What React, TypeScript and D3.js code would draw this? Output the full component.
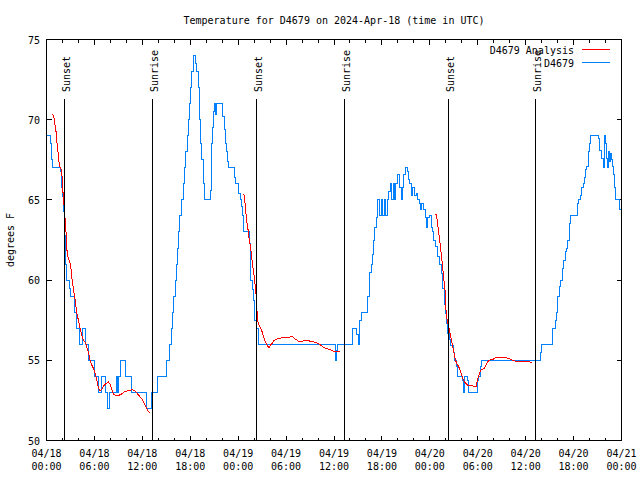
import React from "react";
import * as d3 from "d3";

const TITLE = "Temperature for D4679 on 2024-Apr-18 (time in UTC)";
const Y_LABEL = "degrees F";
const START_ISO = "2024-04-18T00:00:00Z";
const END_ISO = "2024-04-21T00:00:00Z";
const Y_TICKS = [50, 55, 60, 65, 70, 75];
const SERIES_NAMES = ["D4679 Analysis", "D4679"];
const SERIES_COLORS = ["#ff0000", "#0080ff"];

// Sun events, hours after 04/18 00:00 UTC
const SUN_HOURS = [2.25, 13.25, 26.25, 37.3, 50.3, 61.15];
const SUN_LABELS = ["Sunset", "Sunrise", "Sunset", "Sunrise", "Sunset", "Sunrise"];

// Observations (hours after 04/18 00:00 UTC, deg F)
const OBS: [number, number][] = [
  [0, 69], [0.55, 68.5], [0.67, 67.5], [0.8, 67], [1.8, 66.8], [1.92, 65.8], [2.05, 65.2], [2.15, 64.3],
  [2.25, 62.8], [2.32, 61.8], [2.4, 61], [2.55, 60], [2.85, 59.5], [3.0, 59], [3.5, 58], [3.8, 57],
  [4.13, 56], [4.54, 57], [4.84, 56], [5.25, 55], [6.0, 54], [6.5, 53], [6.92, 54], [7.34, 53],
  [7.67, 52], [7.88, 53], [8.71, 54], [8.85, 53], [9.0, 54], [9.21, 55], [9.83, 54], [10.67, 53],
  [12.46, 52], [13.17, 53], [13.95, 54], [15.0, 55], [15.4, 56], [15.65, 57], [15.8, 58], [15.95, 59],
  [16.1, 60], [16.3, 61], [16.4, 62], [16.5, 63], [16.65, 64], [16.9, 65], [17.1, 66], [17.3, 67],
  [17.45, 68], [17.6, 69], [17.75, 70], [17.85, 71], [18.0, 72], [18.2, 73], [18.45, 74], [18.6, 73.5],
  [18.75, 73], [19.0, 72], [19.1, 70], [19.25, 68.5], [19.45, 67.5], [19.6, 66], [19.8, 65], [20.55, 65.6],
  [20.62, 66.5], [20.7, 68.5], [20.8, 69.5], [20.9, 70.5], [21.0, 71], [21.2, 70.3], [21.3, 71], [22.1, 70.2],
  [22.25, 69.4], [22.4, 68.5], [22.55, 68], [22.7, 67.4], [22.8, 67], [23.5, 66.4], [23.65, 66], [24.1, 65.4],
  [24.3, 65], [24.45, 64.6], [24.6, 64], [24.7, 63], [25.4, 62.3], [25.5, 61.5], [25.6, 60], [25.75, 59.4],
  [25.9, 58.75], [26.1, 57.5], [26.3, 57], [26.6, 56], [36.15, 55], [36.3, 55.6], [36.45, 56], [38.35, 57],
  [38.85, 56.6], [39.05, 56], [39.2, 57.5], [39.4, 58], [40.2, 59], [40.4, 60], [40.5, 60.5], [40.67, 61],
  [40.88, 61.6], [41.0, 62.5], [41.1, 63.3], [41.3, 63.9], [41.4, 64.4], [41.5, 65], [41.7, 64], [41.9, 65],
  [42.1, 64], [42.3, 65], [42.5, 64], [42.65, 65], [42.84, 65.5], [43.05, 66], [43.2, 65], [43.4, 66],
  [43.55, 65], [43.7, 66], [44.0, 66.6], [44.2, 65.8], [44.4, 65], [44.6, 65.8],
  [44.75, 66.6], [44.9, 67], [45.17, 66.8], [45.3, 66.3], [45.5, 66], [45.75, 65.3], [45.88, 65.8], [46.1, 65.3],
  [46.3, 65.4], [46.5, 65], [46.7, 64.8], [46.8, 64.4], [47.0, 64.8], [47.2, 64.4], [47.4, 63.9], [47.54, 63.3],
  [47.75, 63.9], [47.96, 64], [48.17, 63.3], [48.3, 63], [48.5, 62.5], [48.7, 62.1], [49.0, 61.5], [49.2, 61],
  [49.4, 60.4], [49.6, 59.5], [49.8, 58.5], [49.96, 57.9], [50.1, 57.3], [50.25, 56.7], [50.46, 56.3], [50.6, 55.9],
  [50.96, 55.5], [51.1, 55], [51.3, 54.6], [51.5, 54], [52.13, 53.75], [52.25, 53], [52.4, 54], [52.67, 53.75],
  [52.84, 53], [54.0, 53.75], [54.1, 54], [54.3, 54.4], [54.4, 54.6], [54.5, 55], [61.85, 55.5], [61.95, 56],
  [63.4, 57], [63.7, 57.5], [63.8, 58], [64.0, 59], [64.2, 59.6], [64.4, 60], [64.6, 60.7], [64.75, 61.25],
  [64.95, 61.8], [65.1, 62], [65.3, 62.5], [65.5, 63.5], [65.6, 64], [66.45, 64.8], [66.6, 65], [66.9, 65.3],
  [67.0, 65.8], [67.2, 66], [67.33, 66.4], [67.5, 66.9], [67.63, 67.1], [67.85, 68], [68.05, 68.5], [68.15, 69],
  [69.1, 68.8], [69.2, 68.5], [69.3, 68.1], [69.5, 67.6], [69.7, 67], [69.83, 68], [69.92, 69], [70.04, 68.5],
  [70.17, 67.6], [70.25, 67], [70.38, 68], [70.46, 67.4], [70.58, 67.9], [70.71, 67.5], [70.88, 67.1], [71.0, 66.6],
  [71.13, 65.8], [71.29, 65], [71.8, 64.4], [72, 64.4],
];

// Analysis, night 1
const ANALYSIS_1: [number, number][] = [
  [0.75, 70.35], [0.96, 70.1], [1.09, 69.6], [1.21, 69.2], [1.29, 68.65], [1.42, 68.1], [1.54, 67.5], [1.63, 67.1],
  [1.8, 67.0], [1.96, 66.46], [2.05, 65.6], [2.13, 65.0], [2.21, 64.6], [2.34, 63.75], [2.46, 62.9], [2.55, 61.9],
  [2.67, 61.5], [2.96, 61.04], [3.09, 60.6], [3.21, 60], [3.38, 59.4], [3.6, 58.75], [3.8, 57.9], [4.0, 57.5],
  [4.21, 57], [4.42, 56.56], [4.63, 56.25], [4.92, 56.1], [5.05, 55.8], [5.25, 55.5], [5.46, 55], [5.67, 54.7],
  [5.88, 54.5], [6.09, 54.2], [6.3, 53.75], [6.5, 53.3], [6.71, 53.1], [6.92, 53.2], [7.13, 53.4], [7.42, 53.55],
  [7.75, 53.65], [7.96, 53.5], [8.17, 53.2], [8.38, 52.9], [8.71, 52.8], [9.0, 52.8], [9.42, 52.9], [9.83, 53.06],
  [10.25, 53.1], [10.67, 53.17], [11.09, 53.1], [11.3, 52.96], [11.6, 52.8], [11.92, 52.6], [12.13, 52.4], [12.34, 52.2],
  [12.55, 52], [12.75, 51.8], [12.96, 51.7],
];

// Analysis, night 2
const ANALYSIS_2: [number, number][] = [
  [24.71, 65.4], [24.83, 65.0], [24.96, 64.2], [25.13, 63.5], [25.25, 63.1], [25.38, 62.5], [25.54, 62.1], [25.67, 61.6],
  [25.79, 61.0], [25.96, 60.4], [26.08, 59.9], [26.21, 59.3], [26.29, 58.75], [26.38, 57.9], [26.5, 57.3], [26.71, 57.1],
  [26.92, 56.9], [27.13, 56.56], [27.33, 56.25], [27.63, 55.94], [27.88, 55.77], [28.04, 55.94], [28.25, 56.04], [28.5, 56.25],
  [28.71, 56.3], [29.0, 56.35], [29.42, 56.4], [30.04, 56.42], [30.67, 56.46], [30.88, 56.46], [31.08, 56.35], [31.38, 56.25],
  [31.71, 56.15], [32.13, 56.2], [32.54, 56.25], [32.96, 56.2], [33.38, 56.15], [33.79, 56.1], [34.21, 56.0], [34.63, 55.83],
  [35.04, 55.73], [35.46, 55.67], [35.88, 55.58], [36.29, 55.56], [36.79, 55.52],
];

// Analysis, night 3
const ANALYSIS_3: [number, number][] = [
  [48.63, 64.06], [48.79, 64.06], [48.92, 63.75], [49.08, 63.1], [49.21, 62.6], [49.33, 62.1], [49.46, 61.5], [49.6, 60.8],
  [49.7, 60.3], [49.8, 59.8], [49.9, 59.4], [49.98, 58.9], [50.04, 57.9], [50.25, 57.3], [50.46, 56.9], [50.67, 56.35],
  [50.88, 55.83], [51.08, 55.3], [51.29, 54.9], [51.5, 54.7], [51.71, 54.5], [51.92, 54.2], [52.13, 53.85], [52.33, 53.65],
  [52.54, 53.54], [52.75, 53.44], [53.17, 53.44], [53.58, 53.37], [53.79, 53.37], [54.0, 53.85], [54.21, 54.17], [54.42, 54.4],
  [54.83, 54.5], [55.04, 54.7], [55.25, 54.9], [55.46, 55], [55.88, 55.06], [56.29, 55.17], [56.71, 55.2], [57.13, 55.2],
  [57.54, 55.17], [57.96, 55.1], [58.38, 55], [58.79, 54.94], [59.21, 54.9], [59.83, 54.9], [60.46, 54.9], [60.79, 54.88],
];

const W = 640;
const H = 480;
const FONT = "'DejaVu Sans Mono', 'Liberation Mono', monospace";

export default function App() {
  const t0 = new Date(START_ISO).getTime();
  const toDate = (h: number) => new Date(t0 + h * 3600 * 1000);

  const x = d3.scaleUtc().domain([new Date(START_ISO), new Date(END_ISO)]).range([46.5, 621.5]);
  const y = d3.scaleLinear().domain([50, 75]).range([440.5, 39.5]);

  const left = x.range()[0];
  const right = x.range()[1];
  const top = y.range()[1];
  const bottom = y.range()[0];

  const majorTicks = x.ticks(d3.utcHour.every(6) as any);
  const minorTicks = x.ticks(d3.utcHour.every(2) as any);
  const fmtDate = d3.utcFormat("%m/%d");
  const fmtTime = d3.utcFormat("%H:%M");

  const line = d3
    .line<[number, number]>()
    .x((d) => x(toDate(d[0])))
    .y((d) => y(d[1]));
  const stepLine = d3
    .line<[number, number]>()
    .x((d) => x(toDate(d[0])))
    .y((d) => y(d[1]))
    .curve(d3.curveStepAfter);

  const analyses = [ANALYSIS_1, ANALYSIS_2, ANALYSIS_3];
  const plotCx = (left + right) / 2;
  const plotCy = (top + bottom) / 2;

  return (
    <svg width={W} height={H} style={{ display: "block", position: "absolute", left: 0, top: 0, background: "#fff" }}
      fontFamily={FONT} fontSize={10}>
      <rect x={0} y={0} width={W} height={H} fill="#fff" />
      <text x={plotCx} y={24} textAnchor="middle" fill="#000">{TITLE}</text>
      <text transform={`translate(14,${plotCy}) rotate(-90)`} textAnchor="middle" fill="#000">{Y_LABEL}</text>

      <g shapeRendering="crispEdges">
        {minorTicks.map((t, i) => (
          <g key={"mn" + i}>
            <line x1={x(t)} x2={x(t)} y1={bottom} y2={bottom - 3} stroke="#000" />
            <line x1={x(t)} x2={x(t)} y1={top} y2={top + 3} stroke="#000" />
          </g>
        ))}
        {majorTicks.map((t, i) => (
          <g key={"mj" + i}>
            <line x1={x(t)} x2={x(t)} y1={bottom} y2={bottom - 5} stroke="#000" />
            <line x1={x(t)} x2={x(t)} y1={top} y2={top + 5} stroke="#000" />
          </g>
        ))}
        {Y_TICKS.map((v) => (
          <g key={"y" + v}>
            <line x1={left} x2={left + 5} y1={y(v)} y2={y(v)} stroke="#000" />
            <line x1={right} x2={right - 5} y1={y(v)} y2={y(v)} stroke="#000" />
          </g>
        ))}
      </g>

      {majorTicks.map((t, i) => (
        <g key={"ml" + i} fill="#000" textAnchor="middle">
          <text x={x(t)} y={457}>{fmtDate(t)}</text>
          <text x={x(t)} y={470}>{fmtTime(t)}</text>
        </g>
      ))}
      {Y_TICKS.map((v) => (
        <text key={"yl" + v} x={40} y={y(v) + 4} textAnchor="end" fill="#000">{v}</text>
      ))}

      <g fill="none" strokeWidth={1} shapeRendering="crispEdges">
        <path d={stepLine(OBS) || ""} stroke={SERIES_COLORS[1]} />
        {analyses.map((a, i) => (
          <path key={"a" + i} d={line(a) || ""} stroke={SERIES_COLORS[0]} />
        ))}
      </g>

      {SUN_HOURS.map((h, i) => {
        const sx = Math.round(x(toDate(h))) + 0.5;
        return (
          <g key={"sun" + i}>
            <line x1={sx} x2={sx} y1={99} y2={bottom} stroke="#000" shapeRendering="crispEdges" />
            <text transform={`translate(${sx + 5.5},92) rotate(-90)`} textAnchor="start" fill="#000">
              {SUN_LABELS[i]}
            </text>
          </g>
        );
      })}

      {SERIES_NAMES.map((name, i) => (
        <g key={"lg" + i}>
          <text x={574} y={49.5 + i * 13 + 4} textAnchor="end" fill="#000">{name}</text>
          <line x1={582} x2={610} y1={49.5 + i * 13} y2={49.5 + i * 13} stroke={SERIES_COLORS[i]}
            shapeRendering="crispEdges" />
        </g>
      ))}

      <rect x={left} y={top} width={right - left} height={bottom - top} fill="none" stroke="#000"
        shapeRendering="crispEdges" />
    </svg>
  );
}
